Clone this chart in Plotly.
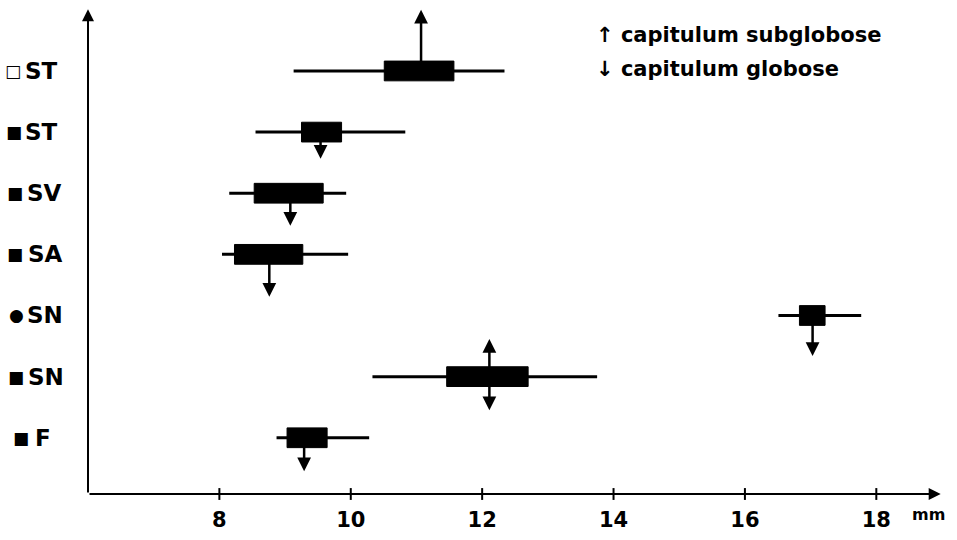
import plotly.graph_objects as go

# ---- data (top row first) ----
row_labels = ["ST", "ST", "SV", "SA", "SN", "SN", "F"]
row_symbols = ["\u25a1", "\u25a0", "\u25a0", "\u25a0", "\u25cf", "\u25a0", "\u25a0"]
row_pos = [7, 6, 5, 4, 3, 2, 1]
whisker_lo = [9.13, 8.55, 8.15, 8.04, 16.51, 10.33, 8.87]
whisker_hi = [12.34, 10.83, 9.93, 9.96, 17.77, 13.75, 10.28]
box_lo = [10.51, 9.25, 8.53, 8.23, 16.83, 11.46, 9.03]
box_hi = [11.57, 9.86, 9.58, 9.27, 17.22, 12.70, 9.64]
arrow_x = [11.07, 9.54, 9.08, 8.76, 17.03, 12.11, 9.29]
arrow_dir = ["up", "down", "down", "down", "down", "both", "down"]
x_ticks = [8, 10, 12, 14, 16, 18]
legend_lines = ["\u2191 capitulum subglobose", "\u2193 capitulum globose"]
x_unit = "mm"

# ---- style ----
arrow_up_len = [62, 0, 0, 0, 0, 38, 0]     # px
arrow_dn_len = [0, 27, 33, 43, 41, 34, 34]  # px
label_text_px = [25, 25, 27, 28, 27, 28, 35]
label_sym_px = [13, 14, 15, 15, 16, 16, 21]
FONT = "DejaVu Sans"
XR = [6.0, 19.0]
YR = [0.08, 8.03]
ML, MR, MT, MB = 88, 15, 8, 40
W, H = 957, 540
PW, PH = W - ML - MR, H - MT - MB
px_per_y = PH / (YR[1] - YR[0])

fig = go.Figure()

shapes = []
annotations = []
for i, y in enumerate(row_pos):
    shapes.append(dict(type="line", xref="x", yref="y", x0=whisker_lo[i], x1=whisker_hi[i],
                       y0=y, y1=y, line=dict(color="black", width=3)))
    shapes.append(dict(type="rect", xref="x", yref="y", x0=box_lo[i], x1=box_hi[i],
                       y0=y - 10 / px_per_y, y1=y + 10 / px_per_y,
                       fillcolor="black", line=dict(color="black", width=1)))
    if arrow_dir[i] in ("up", "both"):
        annotations.append(dict(x=arrow_x[i], y=y + arrow_up_len[i] / px_per_y, xref="x", yref="y",
                                ax=arrow_x[i], ay=y, axref="x", ayref="y", text="",
                                showarrow=True, arrowhead=2, arrowsize=1.1, arrowwidth=2.5,
                                arrowcolor="black"))
    if arrow_dir[i] in ("down", "both"):
        annotations.append(dict(x=arrow_x[i], y=y - arrow_dn_len[i] / px_per_y, xref="x", yref="y",
                                ax=arrow_x[i], ay=y, axref="x", ayref="y", text="",
                                showarrow=True, arrowhead=2, arrowsize=1.1, arrowwidth=2.5,
                                arrowcolor="black"))
    annotations.append(dict(x=(label_text_px[i] - ML) / PW, y=y, xref="paper", yref="y",
                            text=row_labels[i], showarrow=False, xanchor="left", yanchor="middle",
                            borderpad=0, borderwidth=0,
                            font=dict(family=FONT, size=23, color="black", weight="bold")))
    annotations.append(dict(x=(label_sym_px[i] - ML) / PW, y=y, xref="paper", yref="y",
                            text=row_symbols[i], showarrow=False, xanchor="center",
                            yanchor="middle", yshift=0, borderpad=0,
                            font=dict(family="DejaVu Sans", size=17, color="black")))

# tick marks crossing the x axis
for v in x_ticks:
    shapes.append(dict(type="line", xref="x", yref="paper", x0=v, x1=v,
                       y0=-6 / PH, y1=6 / PH, line=dict(color="black", width=2)))

# axes with arrows
annotations.append(dict(x=XR[1] - 0.02, y=YR[0], ax=XR[0], ay=YR[0], xref="x", yref="y",
                        axref="x", ayref="y", text="", showarrow=True, arrowhead=2,
                        arrowsize=1.2, arrowwidth=2, arrowcolor="black"))
annotations.append(dict(x=XR[0], y=YR[1] - 0.02, ax=XR[0], ay=YR[0], xref="x", yref="y",
                        axref="x", ayref="y", text="", showarrow=True, arrowhead=2,
                        arrowsize=1.2, arrowwidth=2, arrowcolor="black"))
annotations.append(dict(x=18.8, y=YR[0], xref="x", yref="y", text=x_unit, showarrow=False,
                        xanchor="center", yanchor="top", yshift=-9,
                        font=dict(family=FONT, size=16, color="black", weight="bold")))
for j, t in enumerate(legend_lines):
    annotations.append(dict(x=(594 - ML) / PW, y=1 - (35 + 35 * j - MT) / PH,
                            xref="paper", yref="paper", text=t, showarrow=False,
                            xanchor="left", yanchor="middle",
                            font=dict(family=FONT, size=21, color="black", weight="bold")))

fig.update_layout(
    width=W, height=H, margin=dict(l=ML, r=MR, t=MT, b=MB),
    paper_bgcolor="white", plot_bgcolor="white",
    shapes=shapes, annotations=annotations, showlegend=False,
    xaxis=dict(range=XR, tickvals=x_ticks, ticktext=[str(v) for v in x_ticks],
               showgrid=False, zeroline=False, showline=False, ticks="",
               ticklabelstandoff=11,
               tickfont=dict(family=FONT, size=21, color="black", weight="bold")),
    yaxis=dict(range=YR, showgrid=False, zeroline=False, showline=False,
               showticklabels=False, ticks=""),
)

fig.write_html("out.html")
